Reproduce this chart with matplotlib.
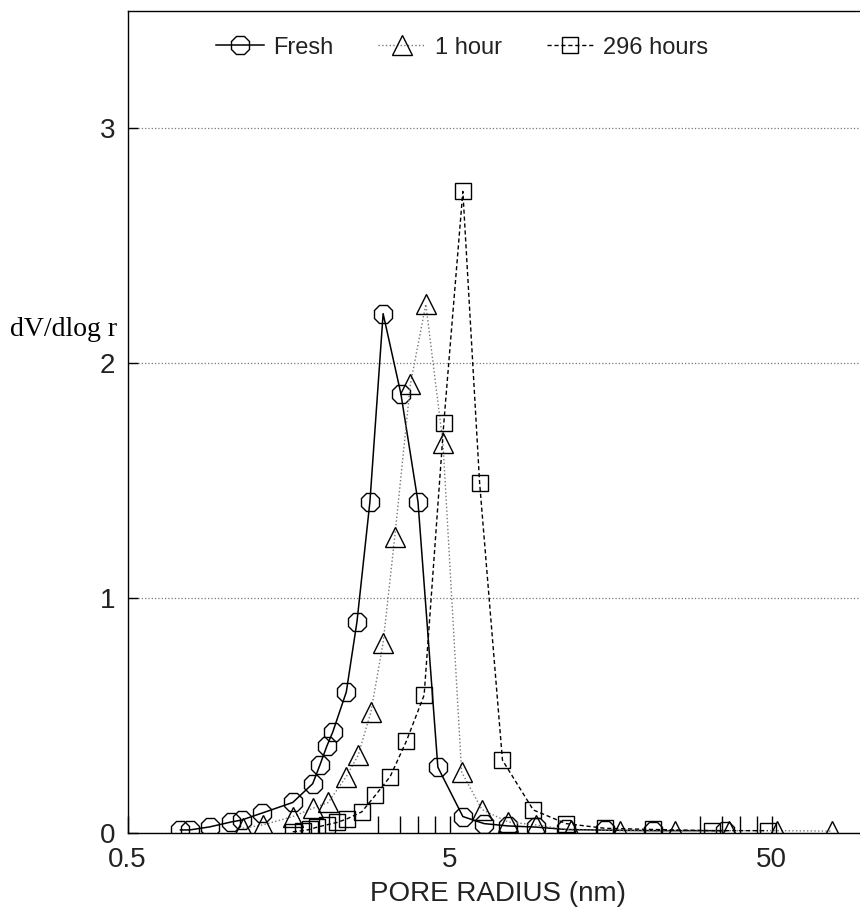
### Libraries
import numpy as np
import matplotlib.pyplot as plt
from matplotlib.ticker import FixedLocator, NullFormatter

### Data
fresh_r = [0.73, 0.78, 0.90, 1.05, 1.13, 1.31, 1.63, 1.88, 1.98, 2.08, 2.17, 2.39, 2.58,
           2.83, 3.11, 3.53, 3.99, 4.6, 5.5, 6.4, 7.6, 9.3, 11.5, 15.2, 21.4, 35.9]
fresh_v = [0.013, 0.013, 0.026, 0.047, 0.055, 0.085, 0.13, 0.21, 0.29, 0.37, 0.43, 0.60, 0.90,
           1.41, 2.21, 1.87, 1.41, 0.28, 0.07, 0.04, 0.03, 0.025, 0.015, 0.012, 0.01, 0.01]

hour1_r = [1.14, 1.32, 1.63, 1.88, 2.10, 2.39, 2.60, 2.85, 3.11, 3.38, 3.78, 4.22, 4.77,
           5.45, 6.3, 7.6, 9.3, 11.9, 16.9, 25.0, 37.0, 52.0, 77.0]
hour1_v = [0.02, 0.035, 0.07, 0.105, 0.13, 0.24, 0.33, 0.515, 0.81, 1.26, 1.91, 2.25, 1.66,
           0.26, 0.10, 0.047, 0.034, 0.013, 0.01, 0.01, 0.01, 0.01, 0.008]

hour296_r = [1.63, 1.75, 1.84, 1.94, 2.08, 2.24, 2.40, 2.67, 2.94, 3.27, 3.67, 4.17, 4.8,
             5.5, 6.2, 7.3, 9.1, 11.5, 15.2, 21.4, 32.6, 48.6]
hour296_v = [0.005, 0.01, 0.015, 0.025, 0.035, 0.045, 0.06, 0.09, 0.16, 0.24, 0.39, 0.587, 1.745,
             2.73, 1.49, 0.31, 0.098, 0.04, 0.02, 0.015, 0.01, 0.01]

x_major = [0.5, 5, 50]
x_major_labels = ['0.5', '5', '50']
x_minor = [3, 3.5, 4, 4.5, 30, 35, 40, 45]
y_ticks = [0, 1, 2, 3]

plt.rcParams['font.family'] = ['Liberation Sans', 'DejaVu Sans']

### Create the plot
fig = plt.figure(figsize=(8.6, 9.19), dpi=100)
# right edge runs past the figure, as in the cropped original
ax = fig.add_axes([127.5 / 860, 1 - 833 / 919, (868.5 - 127.5) / 860, (833 - 10.5) / 919])

ax.plot(fresh_r, fresh_v, '-', color='black', lw=1.1, marker='8', ms=14,
        mfc='none', mec='black', mew=1.0, label='Fresh')
ax.plot(hour1_r, hour1_v, ':', color='#777777', lw=1.0, marker='^', ms=14,
        mfc='none', mec='black', mew=1.0, label='1 hour')
ax.plot(hour296_r, hour296_v, '--', color='black', lw=1.0, dashes=(3, 2), marker='s', ms=11,
        mfc='none', mec='black', mew=1.0, label='296 hours')

ax.set_xscale('log')
ax.set_xlim(0.5, 100)
ax.set_ylim(0, 3.5)

ax.xaxis.set_major_locator(FixedLocator(x_major))
ax.set_xticklabels(x_major_labels)
ax.xaxis.set_minor_locator(FixedLocator(x_minor))
ax.xaxis.set_minor_formatter(NullFormatter())
ax.set_yticks(y_ticks)

ax.tick_params(axis='x', which='both', direction='in', length=12, width=1, labelsize=20,
               pad=10, labelcolor='#222222')
ax.tick_params(axis='y', direction='in', length=7, width=1, labelsize=20, pad=9,
               labelcolor='#222222')

ax.grid(axis='y', linestyle=':', linewidth=0.9, color='#777777')
for s in ax.spines.values():
    s.set_linewidth(1.0)

ax.set_xlabel('PORE RADIUS (nm)', fontsize=20, color='#222222', labelpad=6)
fig.text(10 / 860, 1 - 330 / 919, 'dV/dlog r', fontsize=20, family='Liberation Serif',
         ha='left', va='center')

ax.legend(loc='center', bbox_to_anchor=(0.452, 1 - 37 / 822), ncol=3, frameon=False,
          fontsize=17, handlelength=2.0, columnspacing=1.9, handletextpad=0.4,
          numpoints=1, labelcolor='#222222')

plt.savefig('out.png', dpi=100)
